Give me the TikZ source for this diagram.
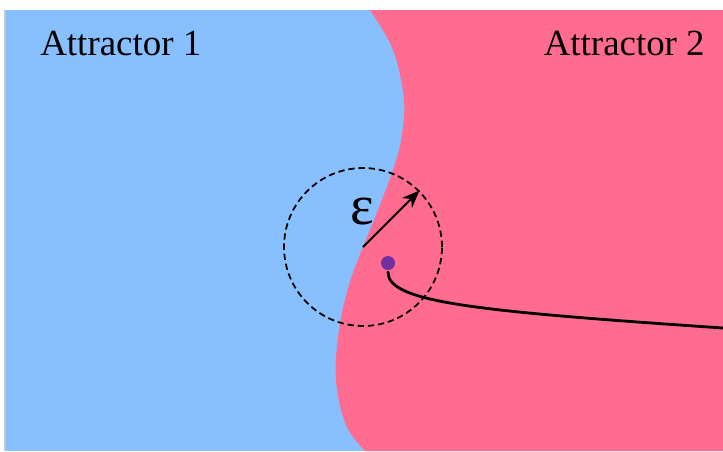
\documentclass[tikz,border=0pt]{standalone}
\usepackage{fontspec}
\setmainfont{Liberation Serif}
\usetikzlibrary{arrows.meta,positioning}
\definecolor{basinA}{HTML}{87BFFF}
\definecolor{basinB}{HTML}{FF6C8F}
\definecolor{state}{HTML}{7030A0}

\begin{document}
\begin{tikzpicture}[
  x=0.02cm, y=-0.02cm,
  every node/.style={inner sep=0pt},
  basin/.style={font=\fontsize{21}{24}\selectfont, text=black},
  ball/.style={circle, draw, line width=1pt, dash pattern=on 3.6pt off 2.2pt,
               minimum size=3.16cm},
  statedot/.style={circle, fill=state, minimum size=0.28cm},
  radius/.style={-{Stealth[length=10pt, width=8pt]}, line width=1.1pt},
  traj/.style={line width=1.6pt, line cap=round},
]
\useasboundingbox (0,0) rectangle (723,451);

%% Basins of attraction
\fill[basinA] (5,10) rectangle (723,451);
\fill[basinB] plot[smooth, tension=0.6] coordinates {(370,10) (393,50) (404,100) (401,140)
    (393,170) (378,210) (363,247) (349,285) (339,330) (336,380) (346,425) (365,451)}
  -- (723,451) -- (723,10) -- cycle;
\draw[gray!45, line width=0.6pt] (5,10) -- (5,451);

%% Labels
\node[basin, anchor=base west] (att1) at (40,55) {Attractor 1};
\node[basin, anchor=base east] (att2) at (705,55) {Attractor 2};

%% Epsilon ball round a point of the boundary
\coordinate (centre) at (363,247);
\node[ball] (eps) at (centre) {};
\draw[radius] (centre) -- (eps.45);
\node[font=\fontsize{32}{34}\selectfont] (epslabel) at (362,212) {ε};

%% Perturbed state and its trajectory
\node[statedot] (state) at (388,263) {};
\coordinate (exit) at (723,328);
\draw[traj] ([yshift=-1pt]state.south) .. controls +(0,30) and +(-250,-17) .. (exit);

\end{tikzpicture}
\end{document}
